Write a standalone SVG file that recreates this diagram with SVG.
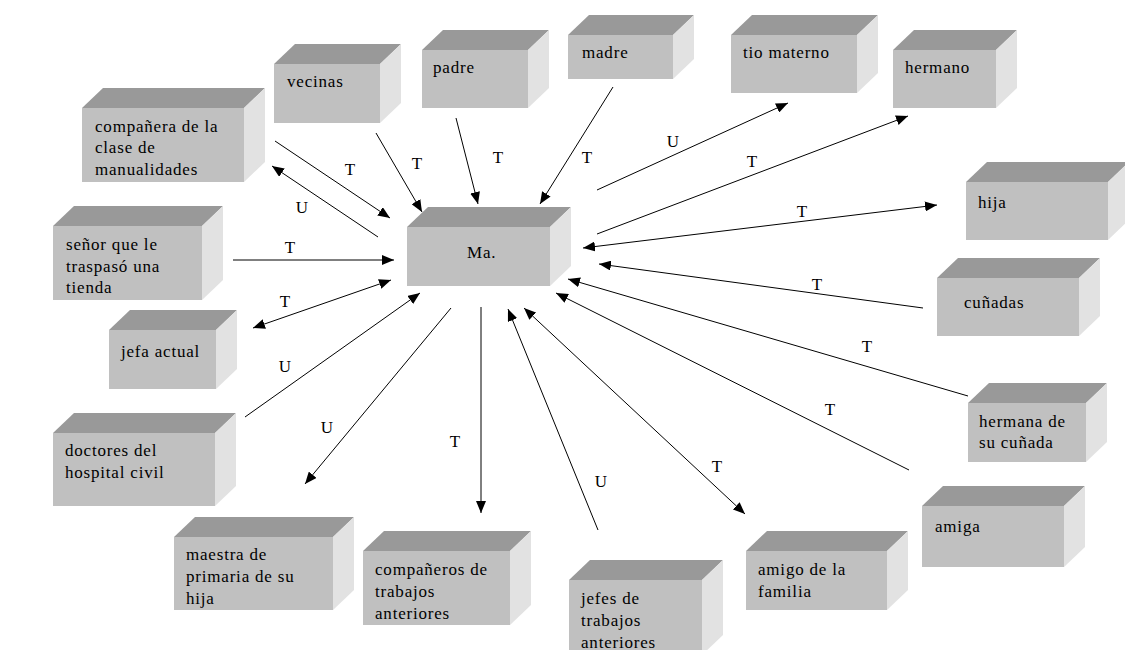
<svg xmlns="http://www.w3.org/2000/svg" width="1125" height="650" viewBox="0 0 1125 650">
<style>
.front{fill:#c0c0c0}
.top{fill:#999999}
.side{fill:#e2e2e2}
.t{font-family:"Liberation Serif","Times New Roman",serif;font-size:17px;letter-spacing:0.8px;fill:#000}
.lbl{font-family:"Liberation Serif","Times New Roman",serif;font-size:17px;fill:#000;text-anchor:middle}
.c{stroke:#000;stroke-width:1;fill:none;marker-end:url(#ah)}
.d{marker-start:url(#ah)}
</style>
<defs>
<marker id="ah" viewBox="0 0 12 10" refX="12" refY="5" markerWidth="12" markerHeight="10" markerUnits="userSpaceOnUse" orient="auto-start-reverse">
<path d="M0,0 L12,5 L0,10 z" fill="#000"/>
</marker>
<clipPath id="k1"><rect x="82" y="108" width="162" height="74"/></clipPath>
<clipPath id="k2"><rect x="53" y="226" width="149" height="74"/></clipPath>
<clipPath id="k3"><rect x="174" y="537" width="159" height="73"/></clipPath>
<clipPath id="k4"><rect x="363" y="551" width="147" height="74"/></clipPath>
<clipPath id="k5"><rect x="569" y="580" width="133" height="70"/></clipPath>
</defs>
<rect width="1125" height="650" fill="#fff"/>

<g id="connectors">
<line class="c" x1="275" y1="141" x2="390" y2="218"/>
<line class="c" x1="378" y1="237" x2="272" y2="166"/>
<line class="c" x1="376" y1="133" x2="422" y2="212"/>
<line class="c" x1="456" y1="118" x2="478" y2="204"/>
<line class="c" x1="613" y1="87" x2="540" y2="204"/>
<line class="c" x1="597" y1="190" x2="788" y2="103"/>
<line class="c" x1="597" y1="234" x2="908" y2="116"/>
<line class="c d" x1="583" y1="248" x2="937" y2="205"/>
<line class="c" x1="923" y1="308" x2="599" y2="264"/>
<line class="c" x1="968" y1="396" x2="568" y2="279"/>
<line class="c" x1="909" y1="470" x2="556" y2="293"/>
<line class="c d" x1="524" y1="308" x2="745" y2="514"/>
<line class="c" x1="598" y1="530" x2="508" y2="309"/>
<line class="c" x1="481" y1="307" x2="481" y2="513"/>
<line class="c" x1="451" y1="308" x2="305" y2="484"/>
<line class="c" x1="245" y1="417" x2="420" y2="293"/>
<line class="c d" x1="391" y1="280" x2="253" y2="328"/>
<line class="c" x1="233" y1="260" x2="394" y2="260"/>
<text class="lbl" x="350" y="175">T</text>
<text class="lbl" x="302" y="213">U</text>
<text class="lbl" x="417" y="169">T</text>
<text class="lbl" x="498" y="163">T</text>
<text class="lbl" x="587" y="163">T</text>
<text class="lbl" x="673" y="147">U</text>
<text class="lbl" x="752" y="167">T</text>
<text class="lbl" x="802" y="217">T</text>
<text class="lbl" x="817" y="290">T</text>
<text class="lbl" x="867" y="352">T</text>
<text class="lbl" x="830" y="415">T</text>
<text class="lbl" x="717" y="472">T</text>
<text class="lbl" x="601" y="487">U</text>
<text class="lbl" x="455" y="447">T</text>
<text class="lbl" x="327" y="433">U</text>
<text class="lbl" x="285" y="372">U</text>
<text class="lbl" x="285" y="307">T</text>
<text class="lbl" x="290" y="253">T</text>
</g>

<g id="n-companera">
<rect class="front" x="82" y="108" width="162" height="74"/>
<polygon class="top" points="82,108 103,88 265,88 244,108"/>
<polygon class="side" points="244,108 265,88 265,162 244,182"/>
<text class="t" clip-path="url(#k1)"><tspan x="95" y="132">compañera de la</tspan><tspan x="95" y="153">clase de</tspan><tspan x="95" y="175">manualidades</tspan></text>
</g>
<g id="n-vecinas">
<rect class="front" x="274" y="64" width="106" height="59"/>
<polygon class="top" points="274,64 295,44 401,44 380,64"/>
<polygon class="side" points="380,64 401,44 401,103 380,123"/>
<text class="t" x="287" y="87">vecinas</text>
</g>
<g id="n-padre">
<rect class="front" x="422" y="50" width="106" height="58"/>
<polygon class="top" points="422,50 443,30 549,30 528,50"/>
<polygon class="side" points="528,50 549,30 549,88 528,108"/>
<text class="t" x="433" y="73">padre</text>
</g>
<g id="n-madre">
<rect class="front" x="568" y="35" width="105" height="44"/>
<polygon class="top" points="568,35 589,15 694,15 673,35"/>
<polygon class="side" points="673,35 694,15 694,59 673,79"/>
<text class="t" x="582" y="58">madre</text>
</g>
<g id="n-tio">
<rect class="front" x="731" y="35" width="126" height="58"/>
<polygon class="top" points="731,35 752,15 878,15 857,35"/>
<polygon class="side" points="857,35 878,15 878,73 857,93"/>
<text class="t" x="743" y="58">tio materno</text>
</g>
<g id="n-hermano">
<rect class="front" x="893" y="50" width="103" height="58"/>
<polygon class="top" points="893,50 914,30 1017,30 996,50"/>
<polygon class="side" points="996,50 1017,30 1017,88 996,108"/>
<text class="t" x="905" y="73">hermano</text>
</g>
<g id="n-hija">
<rect class="front" x="966" y="182" width="142" height="58"/>
<polygon class="top" points="966,182 987,162 1129,162 1108,182"/>
<polygon class="side" points="1108,182 1129,162 1129,220 1108,240"/>
<text class="t" x="978" y="208">hija</text>
</g>
<g id="n-cunadas">
<rect class="front" x="937" y="278" width="142" height="58"/>
<polygon class="top" points="937,278 958,258 1100,258 1079,278"/>
<polygon class="side" points="1079,278 1100,258 1100,316 1079,336"/>
<text class="t" x="964" y="308">cuñadas</text>
</g>
<g id="n-hermana">
<rect class="front" x="968" y="403" width="118" height="59"/>
<polygon class="top" points="968,403 989,383 1107,383 1086,403"/>
<polygon class="side" points="1086,403 1107,383 1107,442 1086,462"/>
<text class="t"><tspan x="979" y="427">hermana de</tspan><tspan x="979" y="448">su cuñada</tspan></text>
</g>
<g id="n-senor">
<rect class="front" x="53" y="226" width="149" height="74"/>
<polygon class="top" points="53,226 74,206 223,206 202,226"/>
<polygon class="side" points="202,226 223,206 223,280 202,300"/>
<text class="t" clip-path="url(#k2)"><tspan x="66" y="250">señor que le</tspan><tspan x="66" y="272">traspasó una</tspan><tspan x="66" y="293">tienda</tspan></text>
</g>
<g id="n-jefa">
<rect class="front" x="109" y="330" width="107" height="59"/>
<polygon class="top" points="109,330 130,310 237,310 216,330"/>
<polygon class="side" points="216,330 237,310 237,369 216,389"/>
<text class="t" x="121" y="357">jefa actual</text>
</g>
<g id="n-ma">
<rect class="front" x="407" y="227" width="143" height="59"/>
<polygon class="top" points="407,227 428,207 571,207 550,227"/>
<polygon class="side" points="550,227 571,207 571,266 550,286"/>
<text class="t" x="467" y="258">Ma.</text>
</g>
<g id="n-doctores">
<rect class="front" x="53" y="433" width="162" height="73"/>
<polygon class="top" points="53,433 74,413 236,413 215,433"/>
<polygon class="side" points="215,433 236,413 236,486 215,506"/>
<text class="t"><tspan x="65" y="456">doctores del</tspan><tspan x="65" y="478">hospital civil</tspan></text>
</g>
<g id="n-maestra">
<rect class="front" x="174" y="537" width="159" height="73"/>
<polygon class="top" points="174,537 195,517 354,517 333,537"/>
<polygon class="side" points="333,537 354,517 354,590 333,610"/>
<text class="t" clip-path="url(#k3)"><tspan x="186" y="560">maestra de</tspan><tspan x="186" y="582">primaria de su</tspan><tspan x="186" y="604">hija</tspan></text>
</g>
<g id="n-companeros">
<rect class="front" x="363" y="551" width="147" height="74"/>
<polygon class="top" points="363,551 384,531 531,531 510,551"/>
<polygon class="side" points="510,551 531,531 531,605 510,625"/>
<text class="t" clip-path="url(#k4)"><tspan x="375" y="575">compañeros de</tspan><tspan x="375" y="597">trabajos</tspan><tspan x="375" y="619">anteriores</tspan></text>
</g>
<g id="n-jefes">
<rect class="front" x="569" y="580" width="133" height="75"/>
<polygon class="top" points="569,580 590,560 723,560 702,580"/>
<polygon class="side" points="702,580 723,560 723,635 702,655"/>
<text class="t" clip-path="url(#k5)"><tspan x="581" y="604">jefes de</tspan><tspan x="581" y="626">trabajos</tspan><tspan x="581" y="648">anteriores</tspan></text>
</g>
<g id="n-amigo">
<rect class="front" x="746" y="551" width="141" height="59"/>
<polygon class="top" points="746,551 767,531 908,531 887,551"/>
<polygon class="side" points="887,551 908,531 908,590 887,610"/>
<text class="t"><tspan x="758" y="575">amigo de la</tspan><tspan x="758" y="597">familia</tspan></text>
</g>
<g id="n-amiga">
<rect class="front" x="922" y="506" width="142" height="61"/>
<polygon class="top" points="922,506 943,486 1085,486 1064,506"/>
<polygon class="side" points="1064,506 1085,486 1085,547 1064,567"/>
<text class="t" x="935" y="532">amiga</text>
</g>
</svg>
